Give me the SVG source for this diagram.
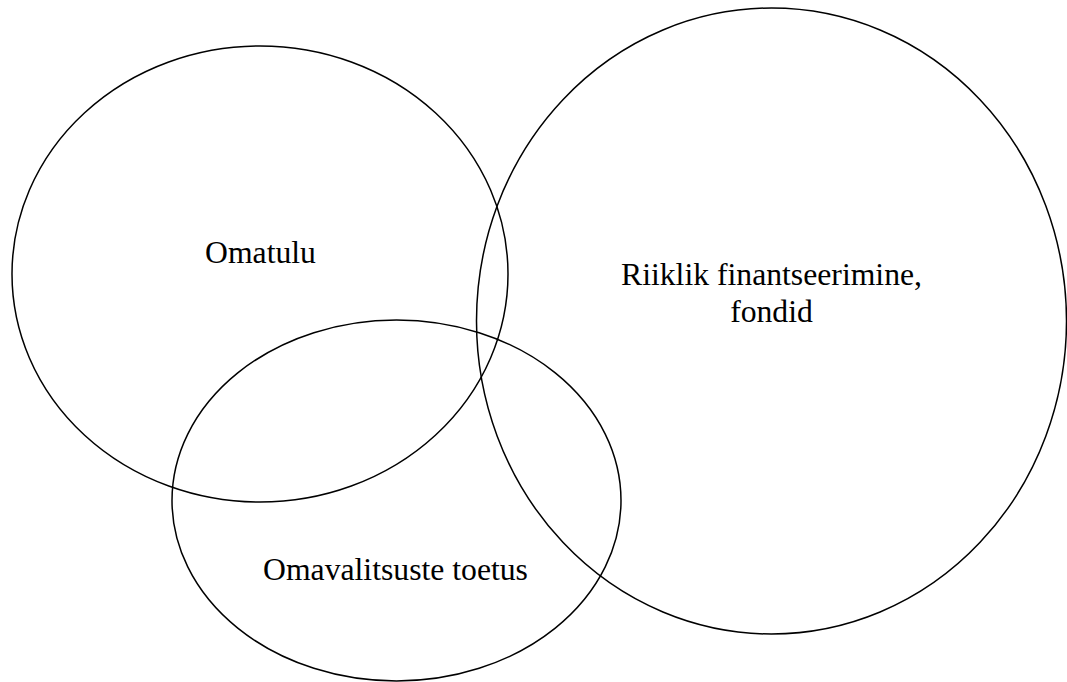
<svg xmlns="http://www.w3.org/2000/svg" width="1067" height="682" viewBox="0 0 1067 682">
<style>
.e{fill:none;stroke:#000;stroke-width:1.5}
.t{font-family:"Liberation Serif","Times New Roman",serif;font-size:31.7px;fill:#000;text-anchor:middle}
</style>
<rect width="1067" height="682" fill="#fff"/>
<g id="omatulu">
<ellipse class="e" cx="260" cy="274" rx="248" ry="228"/>
<text class="t" x="260.5" y="263">Omatulu</text>
</g>
<g id="riiklik">
<ellipse class="e" cx="771.5" cy="321" rx="295" ry="313"/>
<text class="t" x="771.5" y="285">Riiklik finantseerimine,</text>
<text class="t" x="771.5" y="322">fondid</text>
</g>
<g id="omavalitsuste">
<ellipse class="e" cx="396.5" cy="500.5" rx="224.5" ry="180.5"/>
<text class="t" x="395.5" y="580">Omavalitsuste toetus</text>
</g>
<g id="connectors"></g>
</svg>
